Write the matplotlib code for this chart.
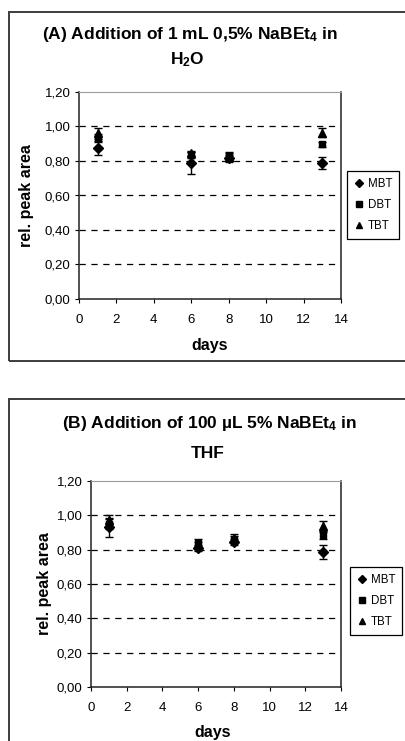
import matplotlib
matplotlib.use("Agg")
import matplotlib.pyplot as plt
from matplotlib.lines import Line2D
from matplotlib.patches import Rectangle
from matplotlib.ticker import FuncFormatter

plt.rcParams['font.family'] = ['Liberation Sans', 'DejaVu Sans']
plt.rcParams['mathtext.default'] = 'regular'

# Sampling days
days = [1, 6, 8, 13]

# (A) 1 mL 0,5% NaBEt4 in H2O
a_mbt = [0.873, 0.788, 0.815, 0.788]
a_mbt_err = [0.036, 0.065, 0.02, 0.035]
a_dbt = [0.935, 0.835, 0.83, 0.896]
a_dbt_err = [0.02, 0.02, 0.02, 0.015]
a_tbt = [0.96, 0.845, 0.825, 0.965]
a_tbt_err = [0.03, 0.015, 0.02, 0.025]

# (B) 100 uL 5% NaBEt4 in THF
b_mbt = [0.93, 0.81, 0.845, 0.785]
b_mbt_err = [0.055, 0.02, 0.02, 0.04]
b_dbt = [0.95, 0.84, 0.86, 0.883]
b_dbt_err = [0.03, 0.02, 0.02, 0.02]
b_tbt = [0.97, 0.825, 0.87, 0.936]
b_tbt_err = [0.03, 0.02, 0.02, 0.03]

species = ['MBT', 'DBT', 'TBT']
markers = ['D', 's', '^']
msizes = [4.6, 5.0, 5.6]

x_ticks = [0, 2, 4, 6, 8, 10, 12, 14]
y_ticks = [0.0, 0.2, 0.4, 0.6, 0.8, 1.0, 1.2]

W, H = 406, 741
fig = plt.figure(figsize=(W / 100, H / 100), dpi=100)


def fx(px):
    return px / W


def fy(py):
    return 1 - py / H


# panel frames
frame_kw = dict(fill=False, edgecolor='#3c3c3c', linewidth=1.4,
                transform=fig.transFigure, clip_on=False)
fig.patches.append(Rectangle((fx(9), fy(361)), fx(440) - fx(9), fy(12) - fy(361), **frame_kw))
fig.patches.append(Rectangle((fx(9), fy(800)), fx(440) - fx(9), fy(399) - fy(800), **frame_kw))


def panel(box, series, title1, title2, t1pos, t2pos, ylab_pos, xlab_pos, leg_pos):
    left, right, top, bottom = box
    ax = fig.add_axes([fx(left), fy(bottom), fx(right) - fx(left), fy(top) - fy(bottom)])
    ax.set_xlim(0, 14)
    ax.set_ylim(0, 1.2)
    ax.set_xticks(x_ticks)
    ax.set_yticks(y_ticks)
    ax.yaxis.set_major_formatter(FuncFormatter(lambda v, p: f"{v:.2f}".replace('.', ',')))
    for v in y_ticks[1:-1]:
        ax.axhline(v, color='black', linewidth=0.9, linestyle=(0, (5, 4.5)), zorder=1)
    for (vals, errs), m, ms in zip(series, markers, msizes):
        ax.errorbar(days, vals, yerr=errs, fmt=m, color='black', markersize=ms,
                    elinewidth=1.0, capsize=3, capthick=1.0, zorder=3)
    for s in ['left', 'bottom', 'right']:
        ax.spines[s].set_color('#222222')
        ax.spines[s].set_linewidth(1.1)
    ax.spines['top'].set_color('#9a9a9a')
    ax.spines['top'].set_linewidth(0.8)
    ax.tick_params(axis='both', direction='out', length=3, width=0.8, labelsize=9.5)
    ax.tick_params(axis='y', pad=3)
    ax.tick_params(axis='x', pad=8)
    fig.text(fx(t1pos[0]), fy(t1pos[1]), title1, ha='center', va='center',
             fontsize=12.5, fontweight='bold')
    fig.text(fx(t2pos[0]), fy(t2pos[1]), title2, ha='center', va='center',
             fontsize=12.5, fontweight='bold')
    fig.text(fx(ylab_pos[0]), fy(ylab_pos[1]), 'rel. peak area', ha='center', va='center',
             rotation=90, fontsize=11.5, fontweight='bold')
    fig.text(fx(xlab_pos[0]), fy(xlab_pos[1]), 'days', ha='center', va='center',
             fontsize=11.5, fontweight='bold')
    handles = [Line2D([], [], marker=m, linestyle='none', color='black', markersize=ms * 0.85)
               for m, ms in zip(markers, msizes)]
    leg = fig.legend(handles, species, loc='upper left',
                     bbox_to_anchor=(fx(leg_pos[0]), fy(leg_pos[1])),
                     bbox_transform=fig.transFigure, fontsize=8.3,
                     frameon=True, fancybox=False, framealpha=1, edgecolor='black',
                     handlelength=0.8, handletextpad=0.4, labelspacing=0.8,
                     borderpad=0.6, borderaxespad=0)
    leg.get_frame().set_linewidth(0.9)
    return ax


panel((79, 341, 92, 299),
      [(a_mbt, a_mbt_err), (a_dbt, a_dbt_err), (a_tbt, a_tbt_err)],
      '(A) Addition of 1 mL 0,5% NaBEt$_4$ in', 'H$_2$O',
      (190, 35), (187, 60), (27, 196), (210, 345), (347, 171))

panel((91, 341, 481, 687),
      [(b_mbt, b_mbt_err), (b_dbt, b_dbt_err), (b_tbt, b_tbt_err)],
      '(B) Addition of 100 µL 5% NaBEt$_4$ in', 'THF',
      (210, 424), (208, 454), (45, 584), (213, 733), (350, 567))

fig.savefig('out.png', dpi=100)
